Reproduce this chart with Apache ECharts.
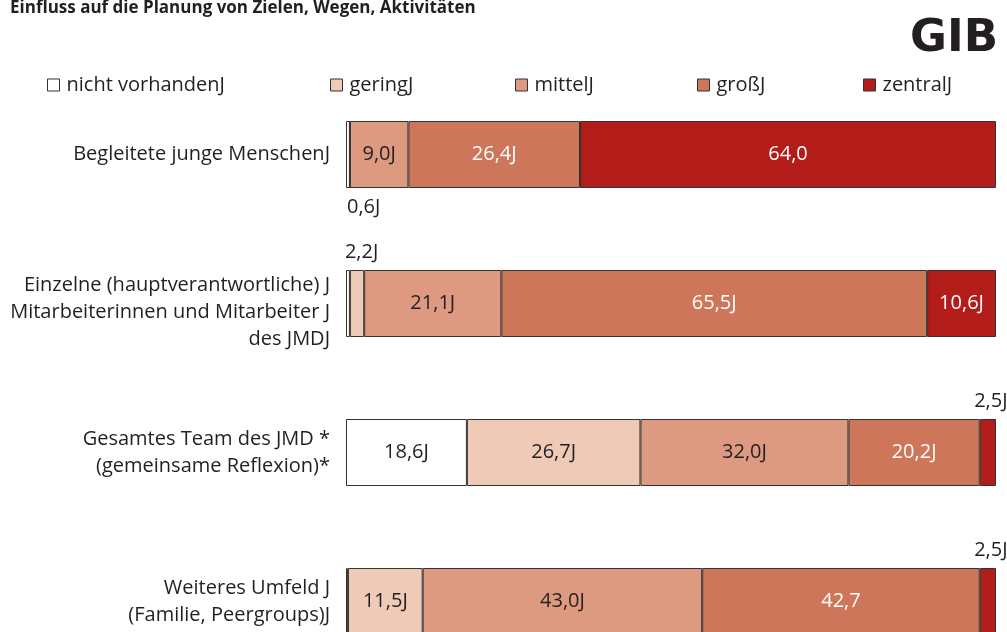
<!DOCTYPE html>
<html><head><meta charset="utf-8">
<script src="https://cdn.jsdelivr.net/npm/echarts@6/dist/echarts.min.js"></script>
<style>html,body{margin:0;padding:0;background:#fff}#c{width:1007px;height:632px}</style>
</head><body><div id="c"></div>
<script>
const categories = [
  'Begleitete junge MenschenJ',
  'Einzelne (hauptverantwortliche) J\nMitarbeiterinnen und Mitarbeiter J\ndes JMDJ',
  'Gesamtes Team des JMD *\n(gemeinsame Reflexion)*',
  'Weiteres Umfeld J\n(Familie, Peergroups)J'
];
const seriesNames = ['nicht vorhandenJ', 'geringJ', 'mittelJ', 'großJ', 'zentralJ'];
const nichtVorhanden = [0.6, 0.6, 18.6, 0.3];
const gering = [0, 2.2, 26.7, 11.5];
const mittel = [9.0, 21.1, 32.0, 43.0];
const gross = [26.4, 65.5, 20.2, 42.7];
const zentral = [64.0, 10.6, 2.5, 2.5];
const labelsNicht = ['0,6J', '', '18,6J', ''];
const labelsGering = ['', '2,2J', '26,7J', '11,5J'];
const labelsMittel = ['9,0J', '21,1J', '32,0J', '43,0J'];
const labelsGross = ['26,4J', '65,5J', '20,2J', '42,7'];
const labelsZentral = ['64,0', '10,6J', '2,5J', '2,5J'];

const colors = ['#ffffff', '#EECAB7', '#DE9A80', '#CE7659', '#B21C19'];
const textColors = ['#231f20', '#231f20', '#231f20', '#ffffff', '#ffffff'];
const values = [nichtVorhanden, gering, mittel, gross, zentral];
const labels = [labelsNicht, labelsGering, labelsMittel, labelsGross, labelsZentral];
const FONT = 'Open Sans';
const FS = 20;

function outsideLabel(s, i) {
  if (s === 0 && i === 0) return {position: [0, '100%'], align: 'left', verticalAlign: 'top', offset: [1, 9], color: '#231f20'};
  if (s === 1 && i === 1) return {position: [0, 0], align: 'left', verticalAlign: 'bottom', offset: [-5, -8], color: '#231f20'};
  if (s === 4 && (i === 2 || i === 3)) return {position: 'top', distance: 8, offset: [3, 0], color: '#231f20'};
  return null;
}

const series = values.map((arr, s) => ({
  name: seriesNames[s],
  type: 'bar',
  stack: 'total',
  barWidth: 67,
  itemStyle: {color: colors[s], borderColor: '#333', borderWidth: 1},
  label: {
    show: true, position: 'inside', fontFamily: FONT, fontSize: FS,
    color: textColors[s],
    formatter: p => labels[s][p.dataIndex]
  },
  emphasis: {disabled: true},
  data: arr.map((v, i) => {
    const o = outsideLabel(s, i);
    return o ? {value: v, label: o} : {value: v};
  })
}));

const legendLefts = [47, 330, 515, 697, 863];
const legends = seriesNames.map((n, s) => ({
  data: [n], left: legendLefts[s], top: 75, padding: 0, itemWidth: 12, itemHeight: 12, itemGap: 0,
  icon: 'rect',
  itemStyle: {borderColor: '#333', borderWidth: 1},
  textStyle: {fontFamily: FONT, fontSize: FS, color: '#231f20', padding: [0, 0, 0, 2]}
}));

const chart = echarts.init(document.getElementById('c'), null, {renderer: 'canvas'});
chart.setOption({
  animation: false,
  color: colors,
  title: [
    {text: 'Einfluss auf die Planung von Zielen, Wegen, Aktivitäten', left: 5, top: -5,
     textStyle: {fontFamily: FONT, fontWeight: 'bold', fontSize: 17, color: '#231f20'}},
    {text: 'GIB', right: 9, top: 17, padding: 0,
     textStyle: {fontFamily: 'DejaVu Sans', fontWeight: 'bold', fontSize: 45, color: '#231f20'}}
  ],
  legend: legends,
  grid: {left: 346, right: 11, top: 80, height: 596, outerBoundsMode: 'none', containLabel: false},
  xAxis: {type: 'value', min: 0, max: 100, show: false},
  yAxis: {
    type: 'category', data: categories, inverse: true,
    axisLine: {show: false}, axisTick: {show: false},
    axisLabel: {
      margin: 16, fontFamily: FONT, fontSize: FS, color: '#231f20', lineHeight: 27, align: 'right',
      formatter: (v, i) => i === 1 ? '{d|' + v.split('\n').join('}\n{d|') + '}' : v,
      rich: {d: {fontFamily: FONT, fontSize: FS, color: '#231f20', lineHeight: 27, padding: [18, 0, 0, 0]}}
    }
  },
  series: series
});
</script></body></html>
